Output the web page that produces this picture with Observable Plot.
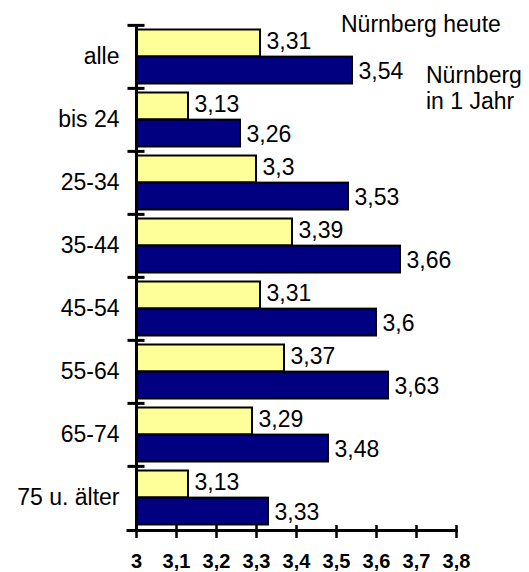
<!DOCTYPE html>
<html><head><meta charset="utf-8">
<script src="https://cdn.jsdelivr.net/npm/d3@7"></script>
<script src="https://cdn.jsdelivr.net/npm/@observablehq/plot@0.6"></script>
<style>
body{margin:0;background:#fff;}
#chart{position:relative;width:529px;height:572px;font-family:"Liberation Sans",Arial,sans-serif;}
.lg{position:absolute;font-size:23px;line-height:26px;color:#000;white-space:nowrap;}
</style></head><body><div id="chart"></div>
<script>
const categories = ["alle","bis 24","25-34","35-44","45-54","55-64","65-74","75 u. älter"];
const heute = [3.31,3.13,3.3,3.39,3.31,3.37,3.29,3.13];
const inEinemJahr = [3.54,3.26,3.53,3.66,3.6,3.63,3.48,3.33];
const seriesNames = ["Nürnberg heute","Nürnberg in 1 Jahr"];
const seriesColors = ["#FFFF99","#000080"];
const xTicks = [3,3.1,3.2,3.3,3.4,3.5,3.6,3.7,3.8];
const baseline = 3;

const rowsHeute = categories.map((c,i)=>({category:c, series:seriesNames[0], value:heute[i]}));
const rowsJahr = categories.map((c,i)=>({category:c, series:seriesNames[1], value:inEinemJahr[i]}));
const fmt = v => String(v).replace(".", ",");

const W=529,H=572,mL=136,mR=73,mT=24,mB=42;
const step=(H-mT-mB)/categories.length, half=step/2, pad=4.5;
const font = "'Liberation Sans', Arial, sans-serif";

const plot = Plot.plot({
  width:W, height:H, marginLeft:mL, marginRight:mR, marginTop:mT, marginBottom:mB,
  style:{fontFamily:font, fontSize:"23px", color:"#000", background:"#fff"},
  x:{domain:[xTicks[0], xTicks[xTicks.length-1]], label:null},
  y:{domain:categories, padding:0, label:null},
  color:{domain:seriesNames, range:seriesColors},
  marks:[
    Plot.barX(rowsHeute,{y:"category", x1:baseline, x2:"value", fill:"series", stroke:"#000", strokeWidth:2, insetTop:pad, insetBottom:half}),
    Plot.barX(rowsJahr,{y:"category", x1:baseline, x2:"value", fill:"series", stroke:"#000", strokeWidth:2, insetTop:half, insetBottom:pad}),
    Plot.text(rowsHeute,{y:"category", x:"value", text:d=>fmt(d.value), textAnchor:"start", dx:6, dy:-15, fontSize:23, fill:"#000"}),
    Plot.text(rowsJahr,{y:"category", x:"value", text:d=>fmt(d.value), textAnchor:"start", dx:6, dy:15, fontSize:23, fill:"#000"}),
    Plot.axisY({tickSize:0, tickPadding:17, fontSize:23, label:null}),
    Plot.axisY({tickSize:17, dx:8.5, dy:-half, strokeWidth:3, tickFormat:()=>"", label:null}),
    Plot.ruleX([baseline],{stroke:"#000", strokeWidth:3}),
    Plot.frame({anchor:"bottom", stroke:"#000", strokeWidth:3, insetLeft:-8.5}),
    Plot.axisX({ticks:xTicks, tickSize:13, dy:-5, strokeWidth:2.5, tickFormat:()=>"", label:null}),
    Plot.axisX({ticks:xTicks, tickSize:0, tickPadding:23, tickFormat:fmt, fontSize:20, fontWeight:"bold", label:null})
  ]
});
const chart = document.getElementById("chart");
chart.appendChild(plot);
const l1 = document.createElement("div"); l1.className="lg"; l1.style.left="341px"; l1.style.top="10.7px"; l1.textContent=seriesNames[0];
const l2 = document.createElement("div"); l2.className="lg"; l2.style.left="426px"; l2.style.top="62.3px"; l2.innerHTML="Nürnberg<br>in 1 Jahr";
chart.appendChild(l1); chart.appendChild(l2);
</script></body></html>
